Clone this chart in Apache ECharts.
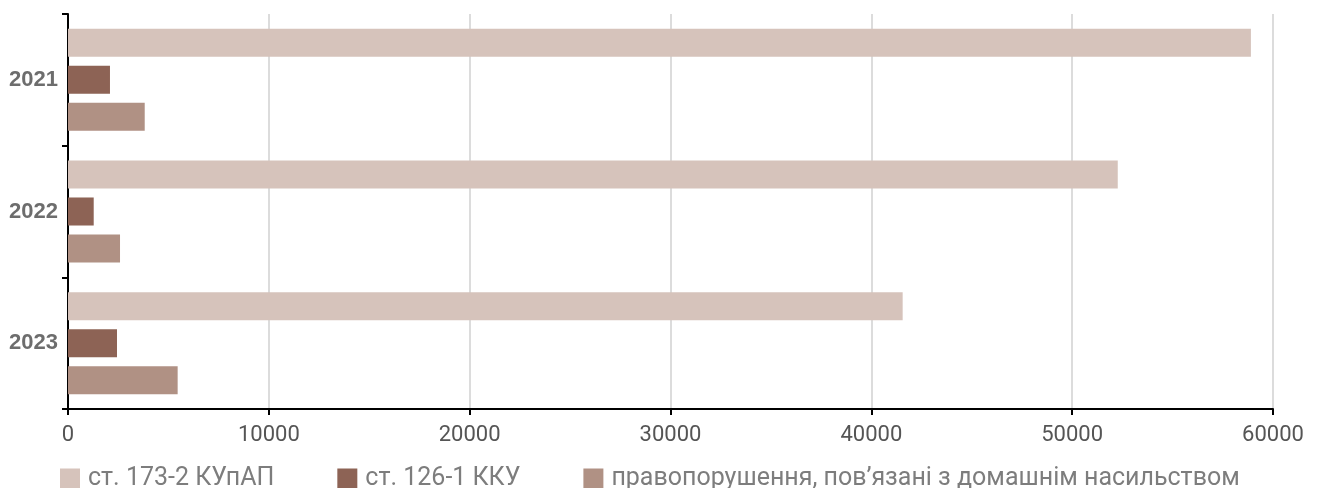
<!DOCTYPE html>
<html><head><meta charset="utf-8">
<script src="https://cdn.jsdelivr.net/npm/echarts@6/dist/echarts.min.js"></script>
<style>html,body{margin:0;padding:0;background:#fff}#c{width:1321px;height:488px}</style>
</head><body><div id="c"></div>
<script>
const years = ['2021', '2022', '2023'];
const seriesNames = ['ст. 173-2 КУпАП', 'ст. 126-1 ККУ', 'правопорушення, пов’язані з домашнім насильством'];
const art173 = [58900, 52270, 41560];
const art126 = [2090, 1280, 2440];
const domestic = [3820, 2590, 5460];
const xTicks = [0, 10000, 20000, 30000, 40000, 50000, 60000];
const colors = ['#d6c3bb', '#8d6355', '#b09184'];

const chart = echarts.init(document.getElementById('c'));
const values = [art173, art126, domestic];
chart.setOption({
  animation: false,
  grid: {left: 68, right: 48, top: 14, bottom: 79},
  legend: {
    top: 466, left: 60, itemWidth: 20, itemHeight: 20, itemGap: 63,
    icon: 'rect', padding: 0,
    textStyle: {color: '#7d7d7d', fontSize: 25, lineHeight: 22, fontFamily: 'Roboto', padding: [0, 0, 0, 3]},
    data: seriesNames
  },
  xAxis: {
    type: 'value', min: xTicks[0], max: xTicks[xTicks.length - 1], interval: 10000,
    axisLine: {show: true, lineStyle: {color: '#000', width: 2}},
    axisTick: {show: true, length: 6, lineStyle: {color: '#000', width: 2}},
    axisLabel: {color: '#555', fontSize: 22, fontFamily: 'Roboto', margin: 15, formatter: v => String(v)},
    splitLine: {show: true, lineStyle: {color: '#dcdcdc', width: 2}}
  },
  yAxis: {
    type: 'category', data: years, inverse: true,
    axisLine: {show: true, lineStyle: {color: '#000', width: 2}},
    axisTick: {show: true, length: 6, lineStyle: {color: '#000', width: 2}},
    axisLabel: {color: '#6d6d6d', fontSize: 22, fontWeight: 'bold', fontFamily: 'Liberation Sans', margin: 10},
    splitLine: {show: false}
  },
  series: seriesNames.map((n, i) => ({
    name: n, type: 'bar', data: values[i],
    barCategoryGap: '22.5%', barGap: '32%',
    itemStyle: {color: colors[i]}
  }))
});
</script></body></html>
